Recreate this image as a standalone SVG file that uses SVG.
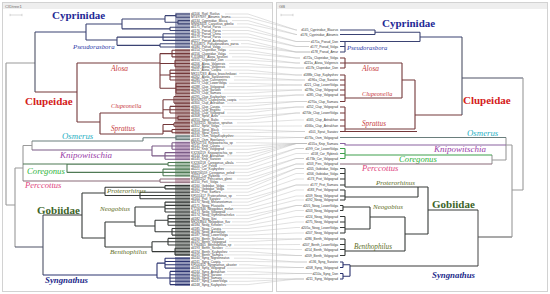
<svg xmlns="http://www.w3.org/2000/svg" width="550" height="294" viewBox="0 0 550 294">
<style>
.ln{fill:none;stroke-width:1.1}
.cyp{stroke:#3b4373}.clu{stroke:#74383a}.osm{stroke:#6a7e7c}.kni{stroke:#7a5a86}.cor{stroke:#4f7a55}.per{stroke:#8a6a78}.gob{stroke:#363a38}.syn{stroke:#2c3470}.rt{stroke:#9a9a9a}.dk{stroke:#4e5266}
.blk{opacity:.55}
.fam{font-family:"Liberation Serif","Times New Roman",serif;font-weight:bold;font-size:11px}
.gen{font-family:"Liberation Serif","Times New Roman",serif;font-style:italic}
.tl{font-family:"Liberation Sans",Arial,sans-serif;font-size:3.2px;fill:#3a3a3a}
.tr{font-family:"Liberation Sans",Arial,sans-serif;font-size:3.2px;fill:#3a3a3a;text-anchor:end}
.cn{fill:none;stroke:#bcbcbc;stroke-width:0.45}
.hd{font-family:"Liberation Sans",Arial,sans-serif;font-size:4.2px;fill:#707070}
</style>
<rect width="550" height="294" fill="#fff"/>
<g id="panels">
<rect x="2.5" y="2.5" width="270" height="289" fill="#fff" stroke="#d2d2d2"/>
<rect x="3" y="3" width="269" height="6" fill="#eeeeee"/>
<text class="hd" x="5" y="7.6">CIDtree1</text>
<path d="M10 15H22M10 13.8V16.2M22 13.8V16.2" stroke="#b0b0b0" stroke-width=".5" fill="none"/>
<rect x="276.5" y="2.5" width="271" height="289" fill="#fff" stroke="#d2d2d2"/>
<rect x="277" y="3" width="270" height="6" fill="#eeeeee"/>
<text class="hd" x="279" y="7.6">GB</text>
<path d="M281 15H293M281 13.8V16.2M293 13.8V16.2" stroke="#b0b0b0" stroke-width=".5" fill="none"/>
</g>
<g id="connectors" class="cn">
<path d="M225 14H248L296 30H297"/><path d="M231 17.3H248L296 30H297"/><path d="M232 20.6H248L296 34.5H297"/><path d="M237 23.9H248L296 34.5H297"/>
<path d="M222 27.2H248L296 41.5H310"/><path d="M222 30.5H248L296 41.5H310"/><path d="M222 33.8H248L296 46.5H309"/><path d="M222 37.1H248L296 46.5H309"/>
<path d="M231 40.4H248L296 52H310"/><path d="M241 43.7H248L296 52H310"/><path d="M222 47H248L296 52H310"/>
<path d="M229 50.3H248L296 58H300"/><path d="M229 53.6H248L296 58H300"/><path d="M232 56.9H248L296 63H300"/><path d="M225 60.2H248L296 63H300"/>
<path d="M229 63.5H248L296 68H304"/><path d="M229 66.8H248L296 68H304"/><path d="M224 70.1H248L296 75H302"/><path d="M239 73.4H248L296 75H302"/>
<path d="M234 76.7H248L296 80H305"/><path d="M234 80H248L296 80H305"/><path d="M229 83.3H248L296 85H302"/><path d="M227 86.6H248L296 85H302"/>
<path d="M224 89.9H248L296 90H302"/><path d="M222 93.2H248L296 90H302"/><path d="M227 96.5H248L296 95H304"/><path d="M239 99.8H248L296 95H304"/>
<path d="M227 103.1H248L296 101.5H307"/><path d="M222 106.4H248L296 101.5H307"/><path d="M224 109.7H248L296 107H304"/><path d="M227 113H248L296 107H304"/>
<path d="M220 116.3H248L296 113H300"/><path d="M224 119.6H248L296 113H300"/><path d="M237 122.9H248L296 120H304"/><path d="M222 126.2H248L296 126H302"/>
<path d="M222 129.5H248L296 131.5H305"/><path d="M222 132.8H248L296 131.5H305"/>
<path d="M234 136.1H248L296 137.5H304"/><path d="M225 139.4H248L296 137.5H304"/>
<path d="M236 142.7H248L296 143.5H307"/><path d="M222 146H248L296 143.5H307"/><path d="M227 149.3H248L296 143.5H307"/><path d="M236 152.6H248L296 143.5H307"/><path d="M227 155.9H248L296 143.5H307"/><path d="M224 159.2H248L296 143.5H307"/>
<path d="M236 162.5H248L296 148.5H304"/><path d="M219 165.8H248L296 148.5H304"/><path d="M225 169.1H248L296 153.5H309"/><path d="M234 172.4H248L296 158.5H304"/><path d="M222 175.7H248L296 158.5H304"/>
<path d="M237 179H248L296 164H304"/><path d="M220 182.3H248L296 164H304"/>
<path d="M227 185.6H248L296 168.5H304"/><path d="M227 188.9H248L296 168.5H304"/><path d="M222 192.2H248L296 173.5H304"/><path d="M236 195.5H248L296 179H304"/>
<path d="M224 198.8H248L296 185H309"/><path d="M232 202.1H248L296 185H309"/><path d="M231 205.4H248L296 190H304"/><path d="M234 208.7H248L296 196H304"/>
<path d="M227 212H248L296 200H304"/><path d="M236 215.3H248L296 205.5H302"/><path d="M222 218.6H248L296 205.5H302"/><path d="M232 221.9H248L296 210.5H304"/>
<path d="M225 225.2H248L296 216.5H304"/><path d="M222 228.5H248L296 222H304"/><path d="M227 231.8H248L296 227.5H300"/><path d="M229 235.1H248L296 233H304"/>
<path d="M229 238.4H248L296 239H302"/><path d="M229 241.7H248L296 239H302"/><path d="M234 245H248L296 244.5H300"/><path d="M225 248.3H248L296 249.5H302"/>
<path d="M229 251.6H248L296 255.5H302"/><path d="M224 254.9H248L296 255.5H302"/>
<path d="M234 258.2H248L296 262H307"/><path d="M222 261.5H248L296 262H307"/><path d="M239 264.8H248L296 267.5H304"/><path d="M227 268.1H248L296 267.5H304"/>
<path d="M227 271.4H248L296 273.5H312"/><path d="M224 274.7H248L296 273.5H312"/><path d="M222 278H248L296 279H304"/><path d="M229 281.3H248L296 279H304"/><path d="M227 284.6H248L296 279H304"/>
</g>
<g id="L-root">
<path class="ln rt" d="M6 63V205M6 63H35M6 205H15M15 168V247M15 168H23M23 145.5V181M23 145.5H32M32 141V150"/>
<path class="ln dk" d="M35 32V92M15 247H43M43 215V275"/>
</g>
<g id="L-Cyprinidae">
<rect class="blk" x="175" y="12.8" width="15" height="35.4" fill="#5a628f"/>
<path class="ln cyp" d="M35 32H86M86 24V40M86 24H122M122 19V28.85M122 19H165M165 15.65V22.25M165 15.65H176M165 22.25H178M176 14V17.3M176 14H190M176 17.3H190M178 20.6V23.9M178 20.6H190M178 23.9H190M122 28.85H170M170 27.2V30.5M170 27.2H190M170 30.5H190M86 40H117M117 37.1V45.35M117 37.1H163M163 33.8V40.4M163 33.8H190M163 37.1H190M163 40.4H190M117 45.35H160M160 43.7V47M160 43.7H190M160 47H190"/>
<text class="fam" x="52" y="19" fill="#1f2a96">Cyprinidae</text>
<text class="gen" x="73" y="49" font-size="6.8" fill="#2a3aa8">Pseudorasbora</text>
<g class="tl">
<text x="191" y="15.1">d4106_Rutil_Rutilus</text><text x="191" y="18.4">MT497697_Abramis_brama</text><text x="191" y="21.7">d4134_Cyprinidae_Blicca</text><text x="191" y="25">MN963453_Carassius_gibelio</text>
<text x="191" y="28.3">d4175_Pseud_Parva</text><text x="191" y="31.6">d4176_Pseud_Parva</text><text x="191" y="34.9">d4178_Pseud_China</text><text x="191" y="38.2">d4179_Pseud_Parva</text>
<text x="191" y="41.5">d4227_Pseud_Azerbaijan</text><text x="191" y="44.8">KJ534675_Pseudorasbora_parva</text><text x="191" y="48.1">d4180_Pseud_Volga</text>
</g>
</g>
<g id="L-Clupeidae">
<rect class="blk" x="175" y="49" width="15" height="85.4" fill="#7c4446"/>
<path class="ln clu" d="M35 92H77M77 63V122M77 63H160M160 53.6V88.25M160 53.6H172M172 50.3V56.9M172 50.3H190M172 53.6H190M172 56.9H190M160 63.5H175M175 60.2V66.8M175 60.2H190M175 63.5H190M175 66.8H190M160 75.05H170M170 70.1V80M170 70.1H190M170 73.4H190M170 76.7H190M170 80H190M160 88.25H176M176 83.3V93.2M176 83.3H190M176 86.6H190M176 89.9H190M176 93.2H190M77 122H100M100 113V134M100 113H163M163 99.8V117.95M163 99.8H174M174 96.5V103.1M174 96.5H190M174 99.8H190M174 103.1H190M163 109.7H170M170 106.4V113M170 106.4H190M170 109.7H190M170 113H190M163 117.95H178M178 116.3V119.6M178 116.3H190M178 119.6H190M100 134H163M163 124.55V134M163 124.55H174M174 122.9V126.2M174 122.9H190M174 126.2H190M163 131.15H172M172 129.5V132.8M172 129.5H190M172 132.8H190"/>
<text class="fam" x="25" y="105" fill="#d42020">Clupeidae</text>
<text class="gen" x="111" y="71" font-size="7.5" fill="#c83a3a">Alosa</text>
<text class="gen" x="111" y="108" font-size="6.2" fill="#c83a3a">Clupeonella</text>
<text class="gen" x="111" y="131" font-size="7.2" fill="#c83a3a">Sprattus</text>
<g class="tl">
<text x="191" y="51.4">d4154_Clupeidae_Volga</text><text x="191" y="54.7">d4156_Clupeidae_Volga</text><text x="191" y="58">KJ158067_Alosa_kessleri</text><text x="191" y="61.3">d4155_Clupeidae_Don</text>
<text x="191" y="64.6">d4206_Alosa_Volgensis</text><text x="191" y="67.9">d4208_Alosa_Volgensis</text><text x="191" y="71.2">d4211_Alosa_Caspia</text><text x="191" y="74.5">MK157283_Alosa_braschnikowi</text>
<text x="191" y="77.8">d4262_Alosa_Saratovensis</text><text x="191" y="81.1">d4285_Clup_Cultriventris</text><text x="191" y="84.4">d4273_Clup_LowerVolga</text><text x="191" y="87.7">d4288_Clup_Volgograd</text>
<text x="191" y="91">d4290_Clup_Saratov</text><text x="191" y="94.3">d4293_Clup_Samara</text><text x="191" y="97.6">d4295_Clup_Kuybyshev</text><text x="191" y="100.9">MG929271_Clupeonella_caspia</text>
<text x="191" y="104.2">d4300_Clup_Astrakhan</text><text x="191" y="107.5">d4301_Clup_Caspia</text><text x="191" y="110.8">d4304_Clup_Engelsi</text><text x="191" y="114.1">d4306_Clup_Volgograd</text>
<text x="191" y="117.4">d4308_Sprat_Azov</text><text x="191" y="120.7">d4310_Sprat_Baltic</text><text x="191" y="124">KT633251_Sprattus_sprattus</text><text x="191" y="127.3">d4312_Sprat_Volga</text>
<text x="191" y="130.6">d4314_Sprat_Black</text><text x="191" y="133.9">d4316_Sprat_Kerch</text>
</g>
</g>
<g id="L-Osmerus">
<rect class="blk" x="175" y="135" width="15" height="5.5" fill="#6f8b89"/>
<path class="ln osm" d="M32 141H143M143 137.75V141M143 137.75H176M176 136.1V139.4M176 136.1H190M176 139.4H190"/>
<text class="gen" x="62" y="139" font-size="8.8" fill="#2ab0c4">Osmerus</text>
<g class="tl"><text x="191" y="137.2">d4130_Osm_VolgaKuybyshev</text><text x="191" y="140.5">d4131_Osm_Eperlanus</text></g>
</g>
<g id="L-Knipowitschia">
<rect class="blk" x="175" y="141.6" width="15" height="18.7" fill="#8a5a92"/>
<path class="ln kni" d="M32 150H152M152 146V155.9M152 146H172M172 142.7V149.3M172 142.7H190M172 146H190M172 149.3H190M152 155.9H165M165 152.6V159.2M165 152.6H190M165 155.9H190M165 159.2H190"/>
<text class="gen" x="60" y="158" font-size="9" fill="#9a3ca8">Knipowitschia</text>
<g class="tl"><text x="191" y="143.8">MK902734_Knipowitschia_sp</text><text x="191" y="147.1">d4141_Knip_Caspia</text><text x="191" y="150.4">d4142_Knip_Volgograd</text><text x="191" y="153.7">KX230219_Knipowitschia_sp</text><text x="191" y="157">d4144_Knip_Astrakhan</text><text x="191" y="160.3">d4145_Knip_Saratov</text></g>
</g>
<g id="L-Coregonus">
<rect class="blk" x="175" y="161.4" width="15" height="15.4" fill="#5f8a64"/>
<path class="ln cor" d="M23 164H67M67 164.15V172.4M67 164.15H168M168 162.5V165.8M168 162.5H190M168 165.8H190M67 172.4H163M163 169.1V175.7M163 169.1H190M163 172.4H190M163 175.7H190"/>
<text class="gen" x="27" y="174" font-size="8.7" fill="#2eb43a">Coregonus</text>
<g class="tl"><text x="191" y="163.6">KX230218_Coregonus_albula</text><text x="191" y="166.9">d4220_Cor_Peled</text><text x="191" y="170.2">d4221_Cor_Kuybyshev</text><text x="191" y="173.5">MW256559_Coregonus_peled</text><text x="191" y="176.8">d4223_Cor_Rybinsk</text></g>
</g>
<g id="L-Perccottus">
<rect class="blk" x="175" y="177.9" width="15" height="5.5" fill="#a06a80"/>
<path class="ln per" d="M23 181H160M160 179V182.3M160 179H190M160 182.3H190"/>
<text class="gen" x="25" y="188" font-size="8.6" fill="#e0457e">Perccottus</text>
<g class="tl"><text x="191" y="180.1">KX385252_Perccottus_glenii</text><text x="191" y="183.4">d4150_Perc_Volga</text></g>
</g>
<g id="L-Gobiidae">
<rect class="blk" x="175" y="184.5" width="15" height="71.5" fill="#4a524c"/>
<path class="ln gob" d="M43 215H82M82 193V238M82 193H105M105 187.25V195.5M105 187.25H165M165 185.6V188.9M165 185.6H190M165 188.9H190M105 195.5H140M140 192.2V198.8M140 192.2H190M140 195.5H190M140 198.8H190M82 238H105M105 222V247M105 222H135M135 207.05V226M135 207.05H165M165 202.1V212M165 202.1H190M165 205.4H190M165 208.7H190M165 212H190M135 226H155M155 220.25V231.8M155 220.25H168M168 215.3V225.2M168 215.3H190M168 218.6H190M168 221.9H190M168 225.2H190M155 231.8H172M172 228.5V235.1M172 228.5H190M172 231.8H190M172 235.1H190M105 247H152M152 241.7V251.6M152 241.7H168M168 238.4V245M168 238.4H190M168 241.7H190M168 245H190M152 251.6H175M175 248.3V254.9M175 248.3H190M175 251.6H190M175 254.9H190"/>
<text class="fam" x="37" y="213.5" fill="#3c6428">Gobiidae</text>
<text class="gen" x="107" y="193.3" font-size="7" fill="#5e6e1e">Proterorhinus</text>
<text class="gen" x="100" y="211" font-size="7" fill="#5e6e1e">Neogobius</text>
<text class="gen" x="110" y="254" font-size="7" fill="#5e6e1e">Benthophilus</text>
<g class="tl">
<text x="191" y="186.7">d4160_Gobiidae_Volga</text><text x="191" y="190">d4161_Gobiidae_Volga</text><text x="191" y="193.3">d4162_Prot_Samara</text><text x="191" y="196.6">KF555417_Proterorhinus_sp</text>
<text x="191" y="199.9">d4164_Prot_Saratov</text><text x="191" y="203.2">d4170_Neog_Melanostomus</text><text x="191" y="206.5">d4171_Neog_Fluviatilis</text><text x="191" y="209.8">KT230346_Neogobius_melan</text>
<text x="191" y="213.1">d4173_Neog_Volgograd</text><text x="191" y="216.4">d4174_Neog_Gymnotrachelus</text><text x="191" y="219.7">d4182_Neog_Iljini</text><text x="191" y="223">MK263844_Neogobius_fluv</text>
<text x="191" y="226.3">d4184_Neog_Kessleri</text><text x="191" y="229.6">d4185_Neog_Caspia</text><text x="191" y="232.9">d4186_Neog_Astrakhan</text><text x="191" y="236.2">d4187_Neog_LowerVolga</text>
<text x="191" y="239.5">d4190_Benth_Stellatus</text><text x="191" y="242.8">d4191_Benth_Volgograd</text><text x="191" y="246.1">KY964465_Benthophilus_sp</text><text x="191" y="249.4">d4193_Benth_Saratov</text>
<text x="191" y="252.7">d4194_Benth_Kuybyshev</text><text x="191" y="256">d4195_Benth_Samara</text>
</g>
</g>
<g id="L-Syngnathus">
<rect class="blk" x="175" y="257" width="15" height="29" fill="#3a4380"/>
<path class="ln syn" d="M43 275H157M157 263.15V278M157 263.15H165M165 258.2V268.1M165 258.2H190M165 261.5H190M165 264.8H190M165 268.1H190M157 278H170M170 271.4V284.6M170 271.4H190M170 274.7H190M170 278H190M170 281.3H190M170 284.6H190"/>
<text class="gen" x="45" y="283" font-size="8.8" font-weight="bold" fill="#1c2a8a">Syngnathus</text>
<g class="tl">
<text x="191" y="259.3">d4240_Syng_Nigrolineatus</text><text x="191" y="262.6">d4241_Syng_Caspia</text><text x="191" y="265.9">KF500452_Syngnathus_abaster</text><text x="191" y="269.2">d4243_Syng_Volgograd</text>
<text x="191" y="272.5">d4244_Syng_Astrakhan</text><text x="191" y="275.8">d4245_Syng_Saratov</text><text x="191" y="279.1">d4246_Syng_Samara</text><text x="191" y="282.4">d4247_Syng_LowerVolga</text><text x="191" y="285.7">d4248_Syng_Kuybyshev</text>
</g>
</g>
<g id="R-root">
<path class="ln dk" d="M462 37V115M462 78H523"/>
<path class="ln" stroke="#555" d="M478 210V266M478 237H512"/>
<path class="ln rt" d="M512 145V237M512 190H523M523 78V190M492 155V164M492 160H506M506 137.5V160M506 145H512"/>
</g>
<g id="R-Cyprinidae">
<path class="ln cyp" d="M340 30H375M340 34.5H375M375 30V34.5M375 32.25H420M340 41.5H345M340 46.5H345M340 52H345M345 41.5V52M345 41.5H420M420 32.25V41.5M420 37H462"/>
<text class="fam" x="382" y="27" fill="#1f2a96">Cyprinidae</text>
<text class="gen" x="347" y="50" font-size="6.6" fill="#2a3aa8">Pseudorasbora</text>
<g class="tr"><text x="338" y="31.1">d145_Cyprinidae_Blaurus</text><text x="338" y="35.6">d176_Cyprinidae_Abramis</text><text x="338" y="42.6">d171a_Pseud_Don</text><text x="338" y="47.6">d177_Pseud_Volga</text><text x="338" y="53.1">d178_Pseud_Amur</text></g>
</g>
<g id="R-Clupeidae">
<path class="ln clu" d="M340 58H345M340 63H345M340 68H345M345 58V68M345 63H402M340 75H345M340 80H345M340 85H345M340 90H345M340 95H345M340 101.5H345M345 75V101.5M345 98H402M402 63V98M402 80H415M340 107H345M340 113H345M340 120H345M340 126H345M340 131.5H345M345 107V131.5M345 129H415M340 131.5H417M415 80V129M415 115H462"/>
<text class="fam" x="463" y="103.5" fill="#d42020">Clupeidae</text>
<text class="gen" x="362" y="71" font-size="7.5" fill="#c83a3a">Alosa</text>
<text class="gen" x="362" y="96" font-size="6.2" fill="#c83a3a">Clupeonella</text>
<text class="gen" x="362" y="126" font-size="7.2" fill="#c83a3a">Sprattus</text>
<g class="tr">
<text x="338" y="59.1">d172a_Clupeidae_Volga</text><text x="338" y="64.1">d221a_Alosa_Volgensis</text><text x="338" y="69.1">d117b_Clupeidae_Don</text><text x="338" y="76.1">d188b_Clup_Kuybyshev</text>
<text x="338" y="81.1">d196a_Clup_Saratov</text><text x="338" y="86.1">d221_Clup_LowerVolga</text><text x="338" y="91.1">d278a_Clup_Volgograd</text><text x="338" y="96.1">d285_Clup_Volgograd</text>
<text x="338" y="102.6">d270a_Clup_Samara</text><text x="338" y="108.1">d252_Clup_Volgograd</text><text x="338" y="114.1">d270b_Clup_LowerVolga</text><text x="338" y="121.1">d165_Clup_Astrakhan</text>
<text x="338" y="127.1">d166a_Clup_Astrakhan</text><text x="338" y="132.6">d101_Sprat_Saratov</text>
</g>
</g>
<g id="R-Osmerus">
<path class="ln osm" d="M340 137.5H506"/>
<text class="gen" x="467" y="135.5" font-size="8.8" fill="#2ab0c4">Osmerus</text>
<g class="tr"><text x="338" y="138.6">d173a_Osm_Volgograd</text></g>
</g>
<g id="R-Knipowitschia">
<path class="ln" stroke="#8a62a0" d="M340 143.5H345V145H506"/>
<text class="gen" x="434" y="152" font-size="9" fill="#9a3ca8">Knipowitschia</text>
<g class="tr"><text x="338" y="144.6">d155a_Knip_Samara</text></g>
</g>
<g id="R-Coregonus">
<path class="ln" stroke="#3f9f4c" d="M340 148.5H345M340 153.5H345M340 158.5H345M345 148.5V158.5M345 155H492"/>
<text class="gen" x="399" y="162" font-size="8.7" fill="#2eb43a">Coregonus</text>
<g class="tr"><text x="338" y="149.6">d199_Cor_LowerVolga</text><text x="338" y="154.6">d158_Cor_Rybinsk</text><text x="338" y="159.6">d173b_Cor_Volgograd</text></g>
</g>
<g id="R-Perccottus">
<path class="ln per" d="M340 164H492"/>
<text class="gen" x="362" y="171" font-size="8.6" fill="#e0457e">Perccottus</text>
<g class="tr"><text x="338" y="165.1">d203_Perc_Volgograd</text></g>
</g>
<g id="R-Gobiidae">
<path class="ln gob" d="M340 168.5H345M340 173.5H345M340 179H345M340 185H345M345 168.5V187M345 187H428M340 190H345M340 196H345M340 200H345M345 190V200M345 197H418M418 187V197M340 205.5H343M340 210.5H343M343 205.5V210.5M343 207H370M340 216.5H345M340 222H345M340 227.5H345M340 233H345M345 216.5V233M345 229H370M370 207V229M370 217H405M340 239H345M340 244.5H345M340 249.5H345M340 255.5H345M345 239V255.5M345 251H405M405 217V251M405 234H428M428 187V234M428 210H478"/>
<text class="fam" x="432" y="208" fill="#3c6428">Gobiidae</text>
<text class="gen" x="376" y="185.3" font-size="7" fill="#5e6e1e">Proterorhinus</text>
<text class="gen" x="373" y="208.5" font-size="7" fill="#5e6e1e">Neogobius</text>
<text class="gen" x="354" y="249" font-size="7.2" fill="#5e6e1e">Benthophilus</text>
<g class="tr">
<text x="338" y="169.6">d205_Gobiidae_Volga</text><text x="338" y="174.6">d206_Gobiidae_Volga</text><text x="338" y="180.1">d173_Prot_Volgograd</text><text x="338" y="186.1">d177_Prot_Samara</text>
<text x="338" y="191.1">d183_Prot_Volgograd</text><text x="338" y="197.1">d209_Neog_Volgograd</text><text x="338" y="201.1">d192_Neog_Volgograd</text><text x="338" y="206.6">d205_Neog_LowerVolga</text>
<text x="338" y="211.6">d203_Neog_Volgograd</text><text x="338" y="217.6">d224_Neog_Volgograd</text><text x="338" y="223.1">d275_Neog_Volgograd</text><text x="338" y="228.6">d205a_Neog_LowerVolga</text>
<text x="338" y="234.1">d207_Neog_Volgograd</text><text x="338" y="240.1">d286_Benth_Volgograd</text><text x="338" y="245.6">d207_Benth_LowerVolga</text><text x="338" y="250.6">d214_Benth_Volgograd</text>
<text x="338" y="256.6">d209_Benth_Volgograd</text>
</g>
</g>
<g id="R-Syngnathus">
<path class="ln syn" d="M340 262H343M340 267.5H343M343 262V267.5M340 273.5H343M340 279H343M343 273.5V279M343 264.75H350M343 276.25H350M350 264.75V276.25"/>
<path class="ln" stroke="#3a3a3a" d="M350 266H478"/>
<text class="gen" x="432" y="278" font-size="8.8" font-weight="bold" fill="#1c2a8a">Syngnathus</text>
<g class="tr"><text x="338" y="263.1">d136_Syng_Saratov</text><text x="338" y="268.6">d208_Syng_Volgograd</text><text x="338" y="274.6">d210a_Syng_Don</text><text x="338" y="280.1">d211_Syng_Volgograd</text></g>
</g>
</svg>
